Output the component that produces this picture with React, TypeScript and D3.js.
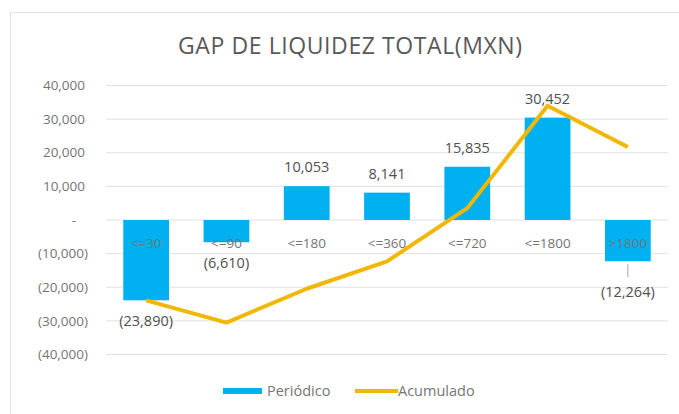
import React from "react";
import * as d3 from "d3";

const categories = ["<=30", "<=90", "<=180", "<=360", "<=720", "<=1800", ">1800"];
const periodico = [-23890, -6610, 10053, 8141, 15835, 30452, -12264];
const acumulado = [-23890, -30500, -20447, -12306, 3529, 33981, 21717];
const yTicks = [40000, 30000, 20000, 10000, 0, -10000, -20000, -30000, -40000];

const W = 679;
const H = 414;
const FONT = "'Open Sans', 'Noto Sans', sans-serif";
const BAR = "#00B0F0";
const LINE = "#F2B705";
const TXT = "#757575";

const fmtAbs = d3.format(",");
const fmt = (v: number) => (v === 0 ? "-" : v < 0 ? `(${fmtAbs(-v)})` : fmtAbs(v));

export default function App() {
  const x = d3.scaleBand<string>().domain(categories).range([106, 668]).paddingInner(0.43).paddingOuter(0.215);
  const y = d3.scaleLinear().domain([-40000, 40000]).range([354.5, 85.5]);
  const cx = (c: string) => (x(c) as number) + x.bandwidth() / 2;
  const line = d3
    .line<number>()
    .x((_, i) => cx(categories[i]))
    .y((d) => y(d));

  return (
    <svg width={W} height={H} style={{ position: "absolute", left: 0, top: 0 }} fontFamily={FONT}>
      <rect x={0} y={0} width={W} height={H} fill="#fff" />
      <rect x={10.5} y={12.5} width={W} height={H} fill="#fff" stroke="#e3e3e3" />
      <text x={350} y={54} textAnchor="middle" fontSize={23} fill="#595959" textLength={344} lengthAdjust="spacing">
        GAP DE LIQUIDEZ TOTAL(MXN)
      </text>
      {yTicks.map((t) => (
        <g key={t}>
          <line x1={106} x2={668} y1={y(t)} y2={y(t)} stroke="#e2e2e2" strokeWidth={1} />
          <text
            x={t === 0 ? 76 : t < 0 ? 88 : 85}
            y={y(t)}
            dy="0.35em"
            textAnchor="end"
            fontSize={13.5}
            fill={TXT}
          >
            {fmt(t)}
          </text>
        </g>
      ))}
      {categories.map((c, i) => {
        const v = periodico[i];
        return (
          <rect
            key={c}
            x={x(c)}
            y={Math.min(y(v), y(0))}
            width={x.bandwidth()}
            height={Math.abs(y(v) - y(0))}
            fill={BAR}
          />
        );
      })}
      {categories.map((c) => (
        <text key={c} x={cx(c)} y={243} dy="0.35em" textAnchor="middle" fontSize={13.5} fill={TXT}>
          {c}
        </text>
      ))}
      <path d={line(acumulado) || ""} fill="none" stroke={LINE} strokeWidth={4} strokeLinejoin="round" />
      {categories.map((c, i) => {
        const v = periodico[i];
        const last = i === categories.length - 1;
        const ly = v >= 0 ? y(v) - 19 : last ? y(v) + 31 : y(v) + 21;
        return (
          <g key={c}>
            {last && <line x1={cx(c)} x2={cx(c)} y1={y(v) + 3} y2={y(v) + 16} stroke="#a6a6a6" />}
            <text x={cx(c)} y={ly} dy="0.35em" textAnchor="middle" fontSize={14.5} fill="#505050">
              {fmt(v)}
            </text>
          </g>
        );
      })}
      <rect x={223} y={388} width={39} height={6} fill={BAR} />
      <text x={267} y={391} dy="0.35em" fontSize={14.5} fill={TXT}>
        Periódico
      </text>
      <line x1={355} x2={398} y1={391} y2={391} stroke={LINE} strokeWidth={4} />
      <text x={398} y={391} dy="0.35em" fontSize={14.5} fill={TXT}>
        Acumulado
      </text>
    </svg>
  );
}
